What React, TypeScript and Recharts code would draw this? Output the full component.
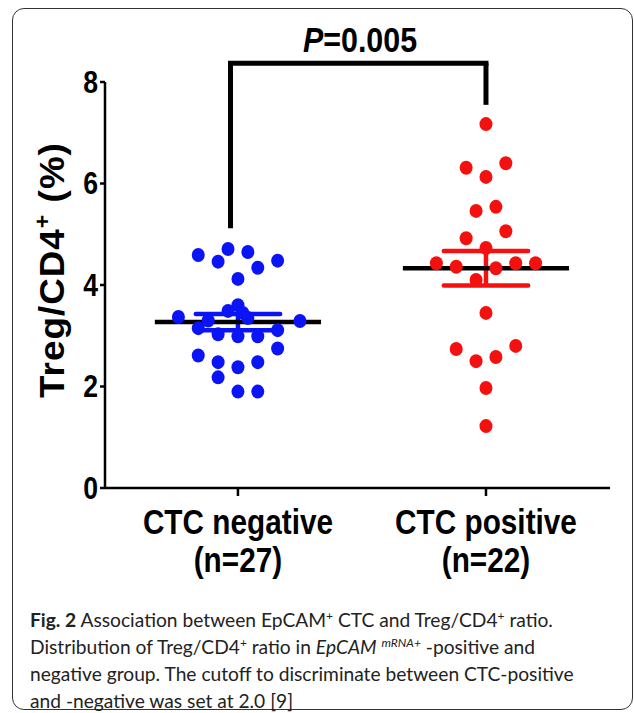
import React from "react";
import {
  ScatterChart,
  Scatter,
  XAxis,
  YAxis,
  ReferenceLine,
} from "recharts";

// groups
const GROUPS = ["CTC negative", "CTC positive"];
const COUNTS = ["(n=27)", "(n=22)"];
const Y_TICKS = [0, 2, 4, 6, 8];

// CTC negative: values and horizontal jitter (in group widths)
const NEG_VALUES = [
  4.59, 4.71, 4.46, 4.65, 4.48, 4.34, 4.12, 3.6, 3.49, 3.37, 3.29, 3.35, 3.15,
  3.03, 2.99, 2.99, 3.11, 2.75, 2.61, 2.48, 2.48, 2.38, 2.18, 1.9, 1.9, 3.3,
  3.45,
];
const NEG_JITTER = [
  -0.16, -0.04, -0.08, 0.04, 0.16, 0.08, 0, 0, -0.04, -0.24, 0.25, 0.04, -0.16,
  -0.08, 0, 0.08, 0.16, 0.16, -0.16, -0.08, 0.08, 0, -0.08, 0, 0.08, -0.12,
  0.02,
];

// CTC positive
const POS_VALUES = [
  7.17, 6.31, 6.4, 6.13, 5.46, 5.54, 5.06, 4.92, 4.73, 4.43, 4.36, 4.33, 4.43,
  4.43, 4.1, 3.45, 2.74, 2.5, 2.58, 2.8, 1.97, 1.22,
];
const POS_JITTER = [
  0, -0.08, 0.08, 0, -0.04, 0.04, 0.08, -0.08, 0, -0.2, -0.12, 0.04, 0.12, 0.2,
  -0.04, 0, -0.12, -0.04, 0.04, 0.12, 0, 0,
];

// mean and SEM
const MEANS = [3.27, 4.33];
const SEMS = [0.16, 0.34];

// significance bracket
const BRACKET_TOP = 8.37;
const BRACKET_ENDS = [5.12, 7.55];

const negData = NEG_VALUES.map((v, i) => ({ x: 0 + NEG_JITTER[i], y: v }));
const posData = POS_VALUES.map((v, i) => ({ x: 1 + POS_JITTER[i], y: v }));

const BOLD_FONT = "'Liberation Sans', Arial, Helvetica, sans-serif";
const COLORS = ["#0a14f5", "#f51010"];

const dotShape = (color: string) => (props: any) =>
  <ellipse cx={props.cx} cy={props.cy} rx={6.5} ry={7} fill={color} />;

// the original lettering is a tall condensed bold, so stretch it a bit
const XTick = (props: any) => {
  const { x, y, payload } = props;
  const i = Math.round(payload.value);
  return (
    <g transform={`translate(${x},${y}) scale(0.96,1.12)`}>
      <text
        textAnchor="middle"
        fontFamily={BOLD_FONT}
        fontWeight="bold"
        fontSize={31}
        fill="#000"
      >
        <tspan x={0} dy={32}>{GROUPS[i]}</tspan>
        <tspan x={0} dy={34}>{COUNTS[i]}</tspan>
      </text>
    </g>
  );
};

const YTick = (props: any) => {
  const { x, y, payload } = props;
  return (
    <g transform={`translate(${x},${y}) scale(0.95,1.12)`}>
      <text
        x={0}
        y={9.5}
        textAnchor="end"
        fontFamily={BOLD_FONT}
        fontWeight="bold"
        fontSize={28}
        fill="#000"
      >
        {payload.value}
      </text>
    </g>
  );
};

const YLabel = () => (
  <text
    transform="translate(64,270) rotate(-90) scale(1.05,1)"
    textAnchor="middle"
    fontFamily={BOLD_FONT}
    fontWeight="bold"
    fontSize={35}
    letterSpacing={1}
    fill="#000"
  >
    Treg/CD4<tspan fontSize={22} dy={-14}>+</tspan>
    <tspan dy={14}> (%)</tspan>
  </text>
);

const sup = { fontSize: 12, lineHeight: 0, verticalAlign: "7px" } as const;

export default function App() {
  return (
    <div
      style={{
        position: "absolute",
        left: 0,
        top: 0,
        width: 634,
        height: 713,
        background: "#fff",
        overflow: "hidden",
      }}
    >
      <div
        style={{
          position: "absolute",
          left: 12,
          top: 8,
          width: 621,
          height: 702,
          border: "1.5px solid #333",
          borderRadius: 12,
          boxSizing: "border-box",
        }}
      />
      <div
        style={{
          position: "absolute",
          left: 290,
          top: 20,
          width: 140,
          textAlign: "center",
          fontFamily: BOLD_FONT,
          fontWeight: "bold",
          fontSize: 32,
          lineHeight: "40px",
          color: "#000",
          whiteSpace: "nowrap",
          transform: "scale(0.95,1.1)",
        }}
      >
        <i>P</i>=0.005
      </div>
      <div style={{ position: "absolute", left: 0, top: 0 }}>
        <ScatterChart
          width={634}
          height={600}
          margin={{ top: 82, right: 24, left: 0, bottom: 0 }}
        >
          <XAxis
            type="number"
            dataKey="x"
            domain={[-0.536, 1.5]}
            ticks={[0, 1]}
            tick={<XTick />}
            height={112}
            axisLine={{ stroke: "#000", strokeWidth: 2.5 }}
            tickLine={{ stroke: "#000", strokeWidth: 2.5 }}
            tickSize={8}
            allowDataOverflow
          />
          <YAxis
            type="number"
            dataKey="y"
            domain={[0, 8]}
            ticks={Y_TICKS}
            tick={<YTick />}
            width={105}
            axisLine={{ stroke: "#000", strokeWidth: 2.5 }}
            tickLine={{ stroke: "#000", strokeWidth: 2.5 }}
            tickSize={5}
            tickMargin={2}
            label={<YLabel />}
            allowDataOverflow
          />
          <Scatter
            data={negData}
            shape={dotShape(COLORS[0])}
            isAnimationActive={false}
          />
          <Scatter
            data={posData}
            shape={dotShape(COLORS[1])}
            isAnimationActive={false}
          />
          {MEANS.map((m, i) => (
            <ReferenceLine
              key={`semh-${i}`}
              segment={[
                { x: i - 0.17, y: m + SEMS[i] },
                { x: i + 0.17, y: m + SEMS[i] },
              ]}
              stroke={COLORS[i]}
              strokeWidth={4.5}
              strokeLinecap="round"
            />
          ))}
          {MEANS.map((m, i) => (
            <ReferenceLine
              key={`seml-${i}`}
              segment={[
                { x: i - 0.17, y: m - SEMS[i] },
                { x: i + 0.17, y: m - SEMS[i] },
              ]}
              stroke={COLORS[i]}
              strokeWidth={4.5}
              strokeLinecap="round"
            />
          ))}
          {MEANS.map((m, i) => (
            <ReferenceLine
              key={`semv-${i}`}
              segment={[
                { x: i, y: m - SEMS[i] },
                { x: i, y: m + SEMS[i] },
              ]}
              stroke={COLORS[i]}
              strokeWidth={4.5}
            />
          ))}
          {MEANS.map((m, i) => (
            <ReferenceLine
              key={`mean-${i}`}
              segment={[
                { x: i - 0.335, y: m },
                { x: i + 0.335, y: m },
              ]}
              stroke="#000"
              strokeWidth={4.5}
            />
          ))}
          <ReferenceLine
            segment={[
              { x: -0.03, y: BRACKET_ENDS[0] },
              { x: -0.03, y: BRACKET_TOP },
            ]}
            stroke="#000"
            strokeWidth={5}
            ifOverflow="visible"
          />
          <ReferenceLine
            segment={[
              { x: -0.03, y: BRACKET_TOP },
              { x: 1.0, y: BRACKET_TOP },
            ]}
            stroke="#000"
            strokeWidth={5}
            strokeLinecap="square"
            ifOverflow="visible"
          />
          <ReferenceLine
            segment={[
              { x: 1.0, y: BRACKET_ENDS[1] },
              { x: 1.0, y: BRACKET_TOP },
            ]}
            stroke="#000"
            strokeWidth={5}
            ifOverflow="visible"
          />
        </ScatterChart>
      </div>
      <div
        style={{
          position: "absolute",
          left: 30,
          top: 606,
          fontFamily: "Lato, 'Open Sans', sans-serif",
          fontSize: 19.2,
          lineHeight: "27px",
          color: "#222",
          whiteSpace: "nowrap",
        }}
      >
        <b>Fig. 2</b> Association between EpCAM<span style={sup}>+</span> CTC and Treg/CD4
        <span style={sup}>+</span> ratio.
        <br />
        Distribution of Treg/CD4<span style={sup}>+</span> ratio in <i>EpCAM</i>{" "}
        <span style={sup}>
          <i>mRNA+</i>
        </span>{" "}
        -positive and
        <br />
        negative group. The cutoff to discriminate between CTC-positive
        <br />
        and -negative was set at 2.0 [9]
      </div>
    </div>
  );
}
